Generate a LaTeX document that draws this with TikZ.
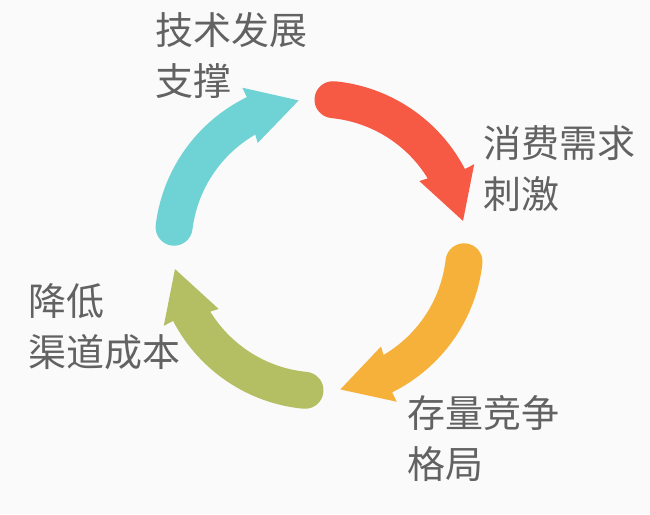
\documentclass[tikz,border=0pt]{standalone}
\usepackage{fontspec}
\newfontfamily\cjk{Noto Sans CJK SC}
\definecolor{bgc}{HTML}{FAFAFA}
\definecolor{txt}{HTML}{626262}
\definecolor{cred}{HTML}{F65A45}
\definecolor{cteal}{HTML}{6FD2D4}
\definecolor{corange}{HTML}{F6B13B}
\definecolor{cgreen}{HTML}{B4BF63}
\newcommand\cyclearrow[2]{%
  \fill[#2] (#1:164.5) arc[start angle=#1, end angle={#1-57}, radius=164.5]
    -- ({#1-57}:175) -- ({#1-75}:146) -- ({#1-52}:119) -- ({#1-53}:127.5)
    arc[start angle={#1-53}, end angle=#1, radius=127.5]
    arc[start angle={#1+180}, end angle=#1, radius=18.5] -- cycle;}
\tikzset{lbl/.style={anchor=base west, inner sep=0pt, outer sep=0pt, align=left,
  text=txt, font=\cjk\fontsize{38pt}{51pt}\selectfont}}
\begin{document}
\begin{tikzpicture}[x=1pt,y=1pt]
\fill[bgc] (0,0) rectangle (650,514);
\useasboundingbox (0,0) rectangle (650,514);
\begin{scope}[shift={(319,269)}]
\cyclearrow{173}{cteal}
\cyclearrow{84.5}{cred}
\cyclearrow{-6.6}{corange}
\cyclearrow{-95.5}{cgreen}
\end{scope}
\node[lbl] (tech) at (155.5,418.5) {技术发展\\支撑};
\node[lbl] (demand) at (483.5,305.5) {消费需求\\刺激};
\node[lbl] (stock) at (407.5,35.5) {存量竞争\\格局};
\node[lbl] (cost) at (28.5,147.5) {降低\\渠道成本};
\end{tikzpicture}
\end{document}
